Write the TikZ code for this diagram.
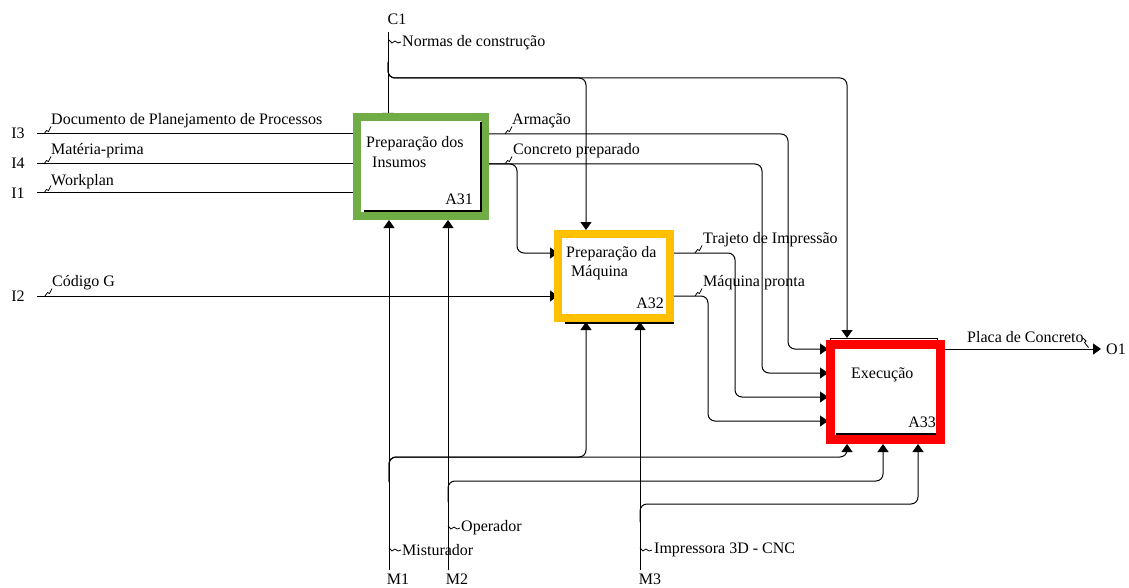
\documentclass[tikz,border=0pt]{standalone}
\usepackage{fontspec}
\setmainfont{Liberation Serif}
\usetikzlibrary{arrows.meta,calc}
\definecolor{boxgreen}{RGB}{112,173,71}
\definecolor{boxorange}{RGB}{255,192,0}
\definecolor{boxred}{RGB}{255,0,0}

% small leader squiggles from a label to its arrow
\newcommand\leadup[1]{\draw[line width=0.8pt] (#1) -- ++(2.5,-3.5) -- ++(2,1) -- ++(2.5,-5);}
\newcommand\leadright[1]{\draw[line width=0.8pt] (#1) -- ++(3,3) -- ++(3,-2) -- ++(3,2) -- ++(3,-1);}

\begin{document}
\begin{tikzpicture}[x=1pt,y=-1pt,
  font=\fontsize{16}{19}\selectfont,
  flow/.style={draw=black, line width=1pt, rounded corners=7pt},
  arr/.style={-{Triangle[length=8pt,width=11pt]}},
  actbox/.style={draw=#1, line width=8pt, fill=white, inner sep=0pt, outer sep=4pt},
  lbl/.style={anchor=west, inner sep=0pt},
  tag/.style={inner sep=0pt}]
\useasboundingbox (0,0) rectangle (1129,588);

% activity boxes (placed first so the connectors can refer to them)
\path node[actbox=boxgreen, minimum width=128pt, minimum height=99pt] (A31) at (421,166.5) {}
      node[actbox=boxorange, minimum width=112pt, minimum height=84pt] (A32) at (614,276) {}
      node[actbox=boxred, line width=9pt, outer sep=4.5pt, minimum width=110pt, minimum height=95pt] (A33) at (885.5,392) {};

% boundary ends
\coordinate (C1) at (388,32);
\coordinate (I3) at (37,134);
\coordinate (I4) at (37,164);
\coordinate (I1) at (37,193);
\coordinate (I2) at (37,296);
\coordinate (M1) at (389,570);
\coordinate (M2) at (448,570);
\coordinate (M3) at (640,570);
\coordinate (O1) at (1101,349);

% vertical lanes
\coordinate (xCtl32) at (586,0);
\coordinate (xCtl33) at (847,0);
\coordinate (xArm) at (788,0);
\coordinate (xCon) at (762,0);
\coordinate (xTra) at (735,0);
\coordinate (xMaq) at (708,0);
\coordinate (xConB) at (517,0);
\coordinate (xM2b) at (883,0);
\coordinate (xM3b) at (918,0);

% horizontal rows
\coordinate (yC1) at (0,78);
\coordinate (yTra) at (0,253);
\coordinate (yIn1) at (0,349);
\coordinate (yIn2) at (0,373);
\coordinate (yIn3) at (0,397);
\coordinate (yIn4) at (0,421);
\coordinate (yM1) at (0,457);
\coordinate (yM2) at (0,481);
\coordinate (yM3) at (0,504);

% control C1
\draw[flow,arr] (C1) -- ($(C1 |- A31.north)+(0,8)$);
\draw[flow,arr] ($(C1)+(0,30)$) |- (xCtl33 |- yC1) -- ($(xCtl33 |- A33.north)+(0,-2)$);
\draw[flow,arr] ($(C1)+(0,30)$) |- (xCtl32 |- yC1) -- (xCtl32 |- A32.north);

% inputs
\draw[flow,arr] (I3) -- ($(A31.west |- I3)+(8,0)$);
\draw[flow,arr] (I4) -- ($(A31.west |- I4)+(8,0)$);
\draw[flow,arr] (I1) -- ($(A31.west |- I1)+(8,0)$);
\draw[flow,arr] (I2) -- ($(A32.west |- I2)+(4,0)$);

% outputs of A31
\draw[flow,arr] (A31.east |- I3) -| (xArm |- yIn1) -- ($(A33.west |- yIn1)+(2,0)$);
\draw[flow,arr] (A31.east |- I4) -| (xCon |- yIn2) -- ($(A33.west |- yIn2)+(2,0)$);
\draw[flow,arr] (A31.east |- I4) -| (xConB |- yTra) -- ($(A32.west |- yTra)+(4,0)$);

% outputs of A32
\draw[flow,arr] (A32.east |- yTra) -| (xTra |- yIn3) -- ($(A33.west |- yIn3)+(2,0)$);
\draw[flow,arr] (A32.east |- I2) -| (xMaq |- yIn4) -- ($(A33.west |- yIn4)+(2,0)$);

% output of A33
\draw[flow,arr] (A33.east |- yIn1) -- (O1);

% mechanisms
\draw[flow,arr] (M1) -- (M1 |- A31.south);
\draw[flow,arr] (M2) -- (M2 |- A31.south);
\draw[flow,arr] (M3) -- (M3 |- A32.south);
\draw[flow,arr] ($(M1)+(0,-88)$) |- (xCtl33 |- yM1) -- (xCtl33 |- A33.south);
\draw[flow,arr] ($(M1)+(0,-88)$) |- (xCtl32 |- yM1) -- (xCtl32 |- A32.south);
\draw[flow,arr] ($(M2)+(0,-68)$) |- (xM2b |- yM2) -- (xM2b |- A33.south);
\draw[flow,arr] ($(M3)+(0,-48)$) |- (xM3b |- yM3) -- (xM3b |- A33.south);

% box borders drawn again on top of the arrow tips
\path node[actbox=boxgreen, fill=none, minimum width=128pt, minimum height=99pt] (A31f) at (A31) {}
      node[actbox=boxorange, fill=none, minimum width=112pt, minimum height=84pt] (A32f) at (A32) {}
      node[actbox=boxred, fill=none, line width=9pt, outer sep=4.5pt, minimum width=110pt, minimum height=95pt] (A33f) at (A33) {};

% shadow edges of the boxes
\draw[line width=2pt] ($(A31.north east)+(-8,9)$) -- ($(A31.south east)+(-8,-9)$) -- ($(A31.south west)+(11,-9)$);
\draw[line width=1.5pt] ($(A32.south west)+(11,1)$) -- ($(A32.south east)+(0,1)$);
\draw[line width=1pt] ($(A33.north west)+(4,0)$) -- ++(0,-2) -- ($(A33.north east)+(-8,-2)$) -- ++(0,2);
\draw[line width=1.5pt] ($(A33.south west)+(10,-10)$) -- ($(A33.south east)+(-9,-10)$);

% box texts
\node[lbl] (n31a) at (366,144) {Preparação dos};
\node[lbl] (n31b) at (372,162) {Insumos};
\node[tag, anchor=east] (n31c) at (473,199) {A31};
\node[lbl] (n32a) at (566,254) {Preparação da};
\node[lbl] (n32b) at (571,273) {Máquina};
\node[tag, anchor=east] (n32c) at (664,303) {A32};
\node[lbl] (n33a) at (851,375) {Execução};
\node[tag, anchor=east] (n33c) at (936,422) {A33};

% boundary tags
\node[tag] (tC1) at (397,19) {C1};
\node[tag] (tI3) at (18,133) {I3};
\node[tag] (tI4) at (18,163) {I4};
\node[tag] (tI1) at (18,193) {I1};
\node[tag] (tI2) at (18,296) {I2};
\node[tag] (tM1) at (398,579) {M1};
\node[tag] (tM2) at (457,579) {M2};
\node[tag] (tM3) at (650,579) {M3};
\node[lbl] (tO1) at (1106,349) {O1};

% arrow labels
\node[lbl] (lNor) at (402,43) {Normas de construção};
\node[lbl] (lDoc) at (51,121) {Documento de Planejamento de Processos};
\node[lbl] (lMat) at (51,151) {Matéria-prima};
\node[lbl] (lWor) at (51,182) {Workplan};
\node[lbl] (lCod) at (52,283) {Código G};
\node[lbl] (lArm) at (512,121) {Armação};
\node[lbl] (lCon) at (513,151) {Concreto preparado};
\node[lbl] (lTra) at (703,240) {Trajeto de Impressão};
\node[lbl] (lMaq) at (703,283) {Máquina pronta};
\node[lbl] (lPla) at (967,337) {Placa de Concreto};
\node[lbl] (lOpe) at (461,528) {Operador};
\node[lbl] (lMis) at (402,550) {Misturador};
\node[lbl] (lImp) at (654,550) {Impressora 3D - CNC};

% leader squiggles
\leadup{44,134}
\leadup{44,164}
\leadup{44,193}
\leadup{45,296}
\leadup{505,134}
\leadup{505,164}
\leadup{695,253}
\leadup{695,296}
\draw[line width=0.8pt] (1083,338) -- ++(3,3) -- ++(-1.5,1.5) -- ++(4,5);
\leadright{389,40}
\leadright{448,526}
\leadright{389,548}
\leadright{640,548}
\end{tikzpicture}
\end{document}
